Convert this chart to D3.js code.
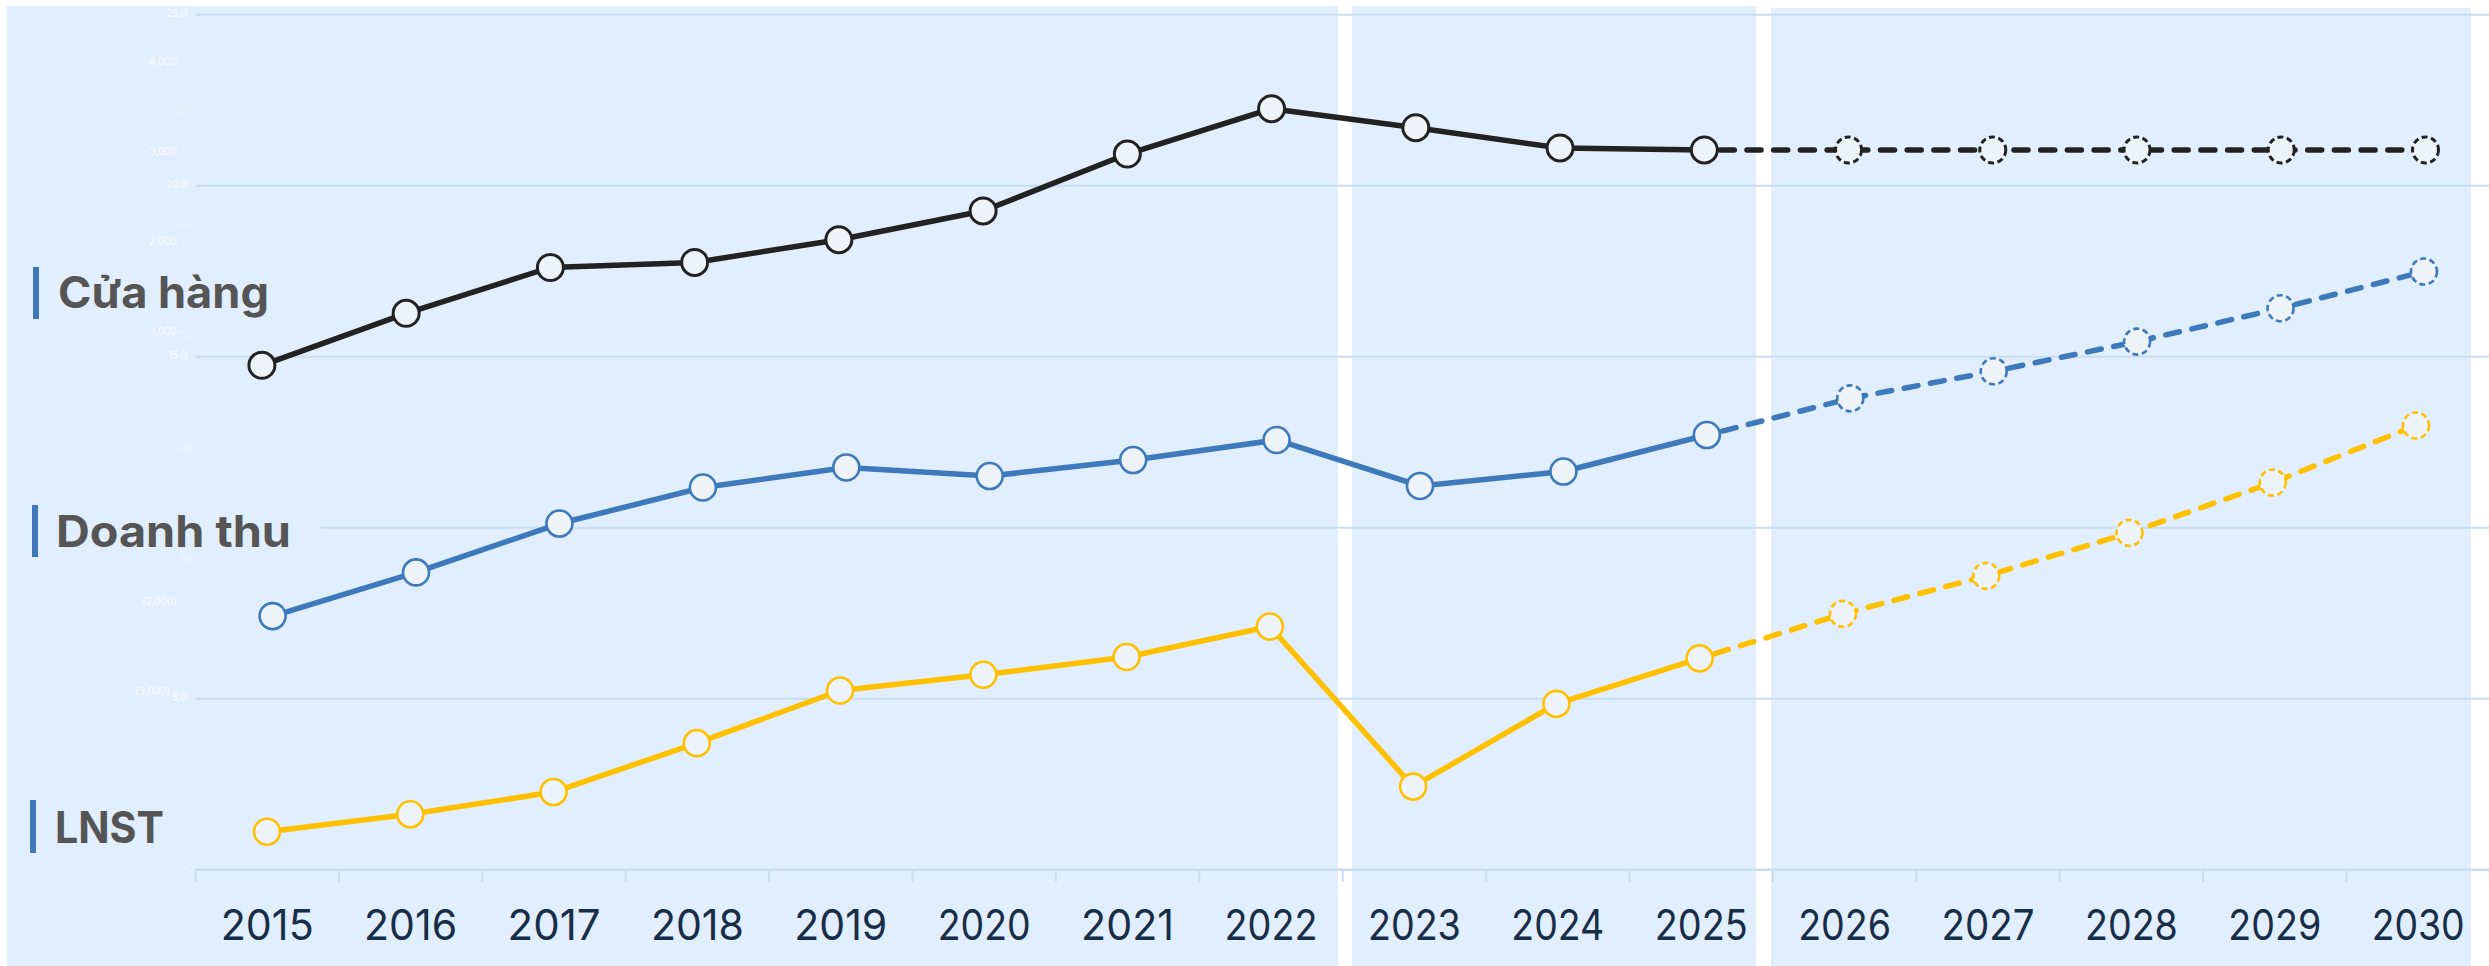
<!DOCTYPE html>
<html><head><meta charset="utf-8">
<script src="https://cdn.jsdelivr.net/npm/d3@7"></script>
<style>html,body{margin:0;padding:0;background:#fff;} svg{display:block}</style>
</head><body>
<svg id="c" width="2489" height="966"></svg>
<script>
// ---------- DATA ----------
const years = ["2015","2016","2017","2018","2019","2020","2021","2022","2023","2024","2025","2026","2027","2028","2029","2030"];
const lastActualYear = "2025";
const storeValues   = [633, 1211, 1720, 1776, 2029, 2348, 2981, 3484, 3273, 3048, 3026, 3026, 3026, 3026, 3026, 3026];
const revenueValues = [25.4, 44.8, 66.5, 82.5, 91.4, 87.6, 94.7, 103.6, 83.2, 89.6, 105.8, 122.1, 134.1, 147.3, 162.1, 178.4];
const profitValues  = [1.11, 1.62, 2.27, 3.70, 5.24, 5.70, 6.22, 7.11, 2.43, 4.85, 6.18, 7.48, 8.59, 9.85, 11.32, 12.99];
const profitTicks  = [0, 5, 10, 15, 20, 25];
const storeTicks   = [-3000, -2000, -1000, 0, 1000, 2000, 3000, 4000];
const revenueTicks = [0, 50, 100, 150, 200, 250];
const seriesNames  = ["Cửa hàng", "Doanh thu", "LNST"];
const panelGroups  = [["2015","2022"], ["2023","2025"], ["2026","2030"]];

// ---------- LAYOUT ----------
const W = 2489, H = 966;
const PANEL = "#e1eefd", GRID = "#c9ddf1", MARK_FILL = "#eef3f9";
const svg = d3.select("#c");

const xBand = d3.scaleBand().domain(years).range([195.5, 2489.9]);
const xProfit  = d3.scalePoint().domain(years).range([267, 2416]);
const xRevenue = d3.scalePoint().domain(years).range([272.6, 2424]);
const xStore   = d3.scalePoint().domain(years).range([261.9, 2425.5]);
const yProfit  = d3.scaleLinear().domain([0, 25]).range([869.7, 14.7]);
const yStore   = d3.scaleLinear().domain([0, 4000]).range([422.3, 62.3]);
const yRevenue = d3.scaleLinear().domain([0, 250]).range([673.3, 110.3]);

// series label boxes (background covers grid and hidden axis labels)
const labelLayout = [
  {bx: 33, by: 267, bh: 52, tx: 58, base: 308, w: 211, bg: [20, 262, 300, 62]},
  {bx: 32, by: 505, bh: 52, tx: 56, base: 547, w: 235, bg: [20, 496, 301, 58]},
  {bx: 30, by: 800, bh: 53, tx: 55, base: 843, w: 109, bg: [20, 790, 200, 68]}
];
const underLabel = y => labelLayout.some(L => y >= L.bg[1] && y <= L.bg[1] + L.bg[3]);

// background panels
const panelEdges = [[7, 6, 1338], [1352, 6, 1756], [1771, 8, 2471]];
svg.append("g").selectAll("rect").data(panelGroups).join("rect")
  .attr("x", (d, i) => panelEdges[i][0])
  .attr("y", (d, i) => panelEdges[i][1])
  .attr("width", (d, i) => panelEdges[i][2] - panelEdges[i][0])
  .attr("height", (d, i) => H - panelEdges[i][1])
  .attr("fill", PANEL);

// gridlines (from the profit axis)
svg.append("g").selectAll("line").data(profitTicks.filter(t => t > 0)).join("line")
  .attr("x1", xBand.range()[0]).attr("x2", W)
  .attr("y1", d => yProfit(d)).attr("y2", d => yProfit(d))
  .attr("stroke", GRID).attr("stroke-width", 2);

// hidden (white) y-axis labels
const fmtNum = d3.format(",");
const acct = v => v === 0 ? "-" : (v < 0 ? "(" + fmtNum(-v) + ")" : fmtNum(v));
const hid = svg.append("g").attr("font-family", "Inter, 'Open Sans', sans-serif").attr("font-size", 10)
  .attr("fill", "#ffffff").attr("text-anchor", "end").attr("dominant-baseline", "middle");
hid.selectAll(".ta").data(profitTicks.filter(t => !underLabel(yProfit(t)))).join("text")
  .attr("x", 187).attr("y", d => yProfit(d)).attr("opacity", 0.9)
  .text(d => d === 0 ? "-" : d3.format(".1f")(d));
hid.selectAll(".tb").data(storeTicks.filter(t => !underLabel(yStore(t)))).join("text")
  .attr("x", d => d === -3000 ? 170 : 177).attr("y", d => yStore(d)).attr("opacity", 0.9)
  .text(acct);
hid.selectAll(".tc").data(revenueTicks.filter(t => !underLabel(yRevenue(t)))).join("text")
  .attr("x", 193).attr("y", d => yRevenue(d)).attr("opacity", 0.45)
  .text(acct);

// x axis line + boundary ticks
const ax = svg.append("g");
ax.append("line").attr("x1", xBand.range()[0]).attr("x2", W)
  .attr("y1", yProfit(0)).attr("y2", yProfit(0)).attr("stroke", GRID).attr("stroke-width", 2.5);
const bounds = years.map(y => xBand(y)).concat([xBand.range()[1]]);
ax.selectAll(".tk").data(bounds).join("line")
  .attr("x1", d => d).attr("x2", d => d)
  .attr("y1", yProfit(0)).attr("y2", yProfit(0) + 12)
  .attr("stroke", GRID).attr("stroke-width", 2);

// year labels
const yl = ax.selectAll(".yl").data(years).join("text")
  .attr("font-family", "Inter, sans-serif").attr("font-size", 42)
  .attr("fill", "#172d48").attr("text-anchor", "middle")
  .text(d => d);
yl.each(function(d) {
  const len = this.getComputedTextLength();
  const sx = 93 / len;
  d3.select(this).attr("transform", `translate(${xBand(d) + xBand.bandwidth() / 2},940) scale(${sx},1)`);
});

// series labels with background + blue bar
const lg = svg.append("g");
seriesNames.forEach((name, i) => {
  const L = labelLayout[i];
  lg.append("rect").attr("x", L.bg[0]).attr("y", L.bg[1]).attr("width", L.bg[2]).attr("height", L.bg[3]).attr("fill", PANEL);
  lg.append("rect").attr("x", L.bx).attr("y", L.by).attr("width", 6).attr("height", L.bh).attr("fill", "#3f78b9");
  const t = lg.append("text").attr("font-family", "Inter, sans-serif").attr("font-weight", 700)
    .attr("font-size", 43.5).attr("fill", "#555555").text(name);
  const len = t.node().getComputedTextLength();
  t.attr("transform", `translate(${L.tx},${L.base}) scale(${L.w / len},1)`);
});

// series
const series = [
  {values: profitValues,  x: xProfit,  y: yProfit,  color: "#ffc000", mw: 2.6},
  {values: revenueValues, x: xRevenue, y: yRevenue, color: "#3e79bc", mw: 2.6},
  {values: storeValues,   x: xStore,   y: yStore,   color: "#222222", mw: 3}
];
const cut = years.indexOf(lastActualYear);
series.forEach(s => {
  const pts = years.map((yr, i) => ({yr, v: s.values[i], i}));
  const line = d3.line().x(d => s.x(d.yr)).y(d => s.y(d.v));
  const g = svg.append("g");
  g.append("path").datum(pts.slice(0, cut + 1)).attr("d", line)
    .attr("fill", "none").attr("stroke", s.color).attr("stroke-width", 5.5).attr("stroke-linejoin", "round");
  g.append("path").datum(pts.slice(cut)).attr("d", line)
    .attr("fill", "none").attr("stroke", s.color).attr("stroke-width", 5.5)
    .attr("stroke-dasharray", "14,12.7").attr("stroke-linecap", "round").attr("stroke-dashoffset", -16);
  g.selectAll("circle").data(pts).join("circle")
    .attr("cx", d => s.x(d.yr)).attr("cy", d => s.y(d.v)).attr("r", 13)
    .attr("fill", MARK_FILL).attr("stroke", s.color).attr("stroke-width", s.mw)
    .attr("stroke-dasharray", d => d.i > cut ? "6,3.5" : null);
});
</script>
</body></html>
